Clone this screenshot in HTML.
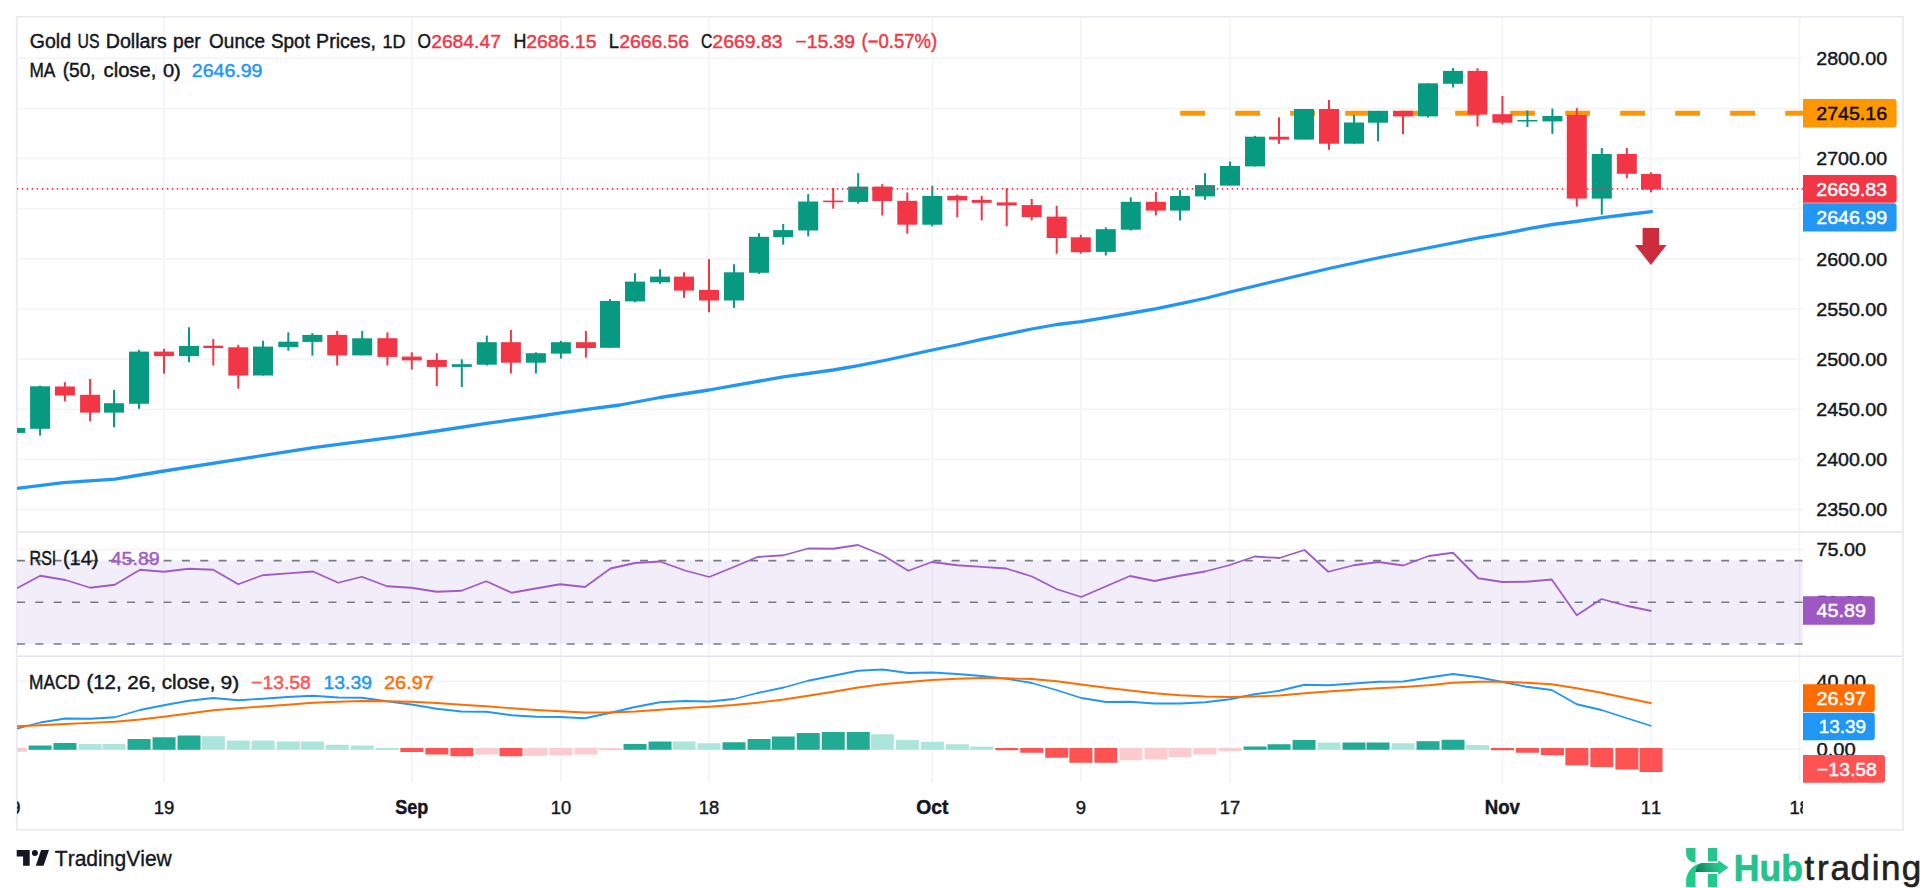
<!DOCTYPE html>
<html><head><meta charset="utf-8"><title>Gold chart</title><style>html,body{margin:0;padding:0;background:#fff}body{width:1920px;height:888px;overflow:hidden}</style></head><body>
<svg width="1920" height="888" viewBox="0 0 1920 888" font-family='"Liberation Sans", sans-serif' style="display:block;font-kerning:none">
<rect width="1920" height="888" fill="#fff"/>
<defs><clipPath id="plot"><rect x="17" y="17" width="1786" height="766"/></clipPath><clipPath id="taxis"><rect x="17" y="783" width="1786" height="46"/></clipPath></defs>
<g stroke="#F2F3F5" stroke-width="1.5">
<line x1="17" x2="1803" y1="58.30" y2="58.30"/>
<line x1="17" x2="1803" y1="108.44" y2="108.44"/>
<line x1="17" x2="1803" y1="158.57" y2="158.57"/>
<line x1="17" x2="1803" y1="208.70" y2="208.70"/>
<line x1="17" x2="1803" y1="258.84" y2="258.84"/>
<line x1="17" x2="1803" y1="308.97" y2="308.97"/>
<line x1="17" x2="1803" y1="359.11" y2="359.11"/>
<line x1="17" x2="1803" y1="409.25" y2="409.25"/>
<line x1="17" x2="1803" y1="459.38" y2="459.38"/>
<line x1="17" x2="1803" y1="509.51" y2="509.51"/>
<line x1="17" x2="1803" y1="549.5" y2="549.5"/>
<line x1="17" x2="1803" y1="681.25" y2="681.25"/>
<line x1="17" x2="1803" y1="749.25" y2="749.25"/>
<line x1="164.00" x2="164.00" y1="17" y2="782.5"/>
<line x1="411.80" x2="411.80" y1="17" y2="782.5"/>
<line x1="560.90" x2="560.90" y1="17" y2="782.5"/>
<line x1="709.00" x2="709.00" y1="17" y2="782.5"/>
<line x1="932.30" x2="932.30" y1="17" y2="782.5"/>
<line x1="1080.80" x2="1080.80" y1="17" y2="782.5"/>
<line x1="1230.00" x2="1230.00" y1="17" y2="782.5"/>
<line x1="1502.40" x2="1502.40" y1="17" y2="782.5"/>
<line x1="1651.00" x2="1651.00" y1="17" y2="782.5"/>
<line x1="1799.61" x2="1799.61" y1="17" y2="782.5"/>
</g>
<rect x="17" y="560.5" width="1786" height="83.5" fill="#F1EDF9"/>
<g stroke="#E6E3EF" stroke-width="1.5">
<line x1="164.00" x2="164.00" y1="560.5" y2="644"/>
<line x1="411.80" x2="411.80" y1="560.5" y2="644"/>
<line x1="560.90" x2="560.90" y1="560.5" y2="644"/>
<line x1="709.00" x2="709.00" y1="560.5" y2="644"/>
<line x1="932.30" x2="932.30" y1="560.5" y2="644"/>
<line x1="1080.80" x2="1080.80" y1="560.5" y2="644"/>
<line x1="1230.00" x2="1230.00" y1="560.5" y2="644"/>
<line x1="1502.40" x2="1502.40" y1="560.5" y2="644"/>
<line x1="1651.00" x2="1651.00" y1="560.5" y2="644"/>
<line x1="1799.61" x2="1799.61" y1="560.5" y2="644"/>
</g>
<g stroke="#E0E3EB" stroke-width="1.5" fill="none">
<line x1="17" x2="1903" y1="532" y2="532"/>
<line x1="17" x2="1903" y1="656.25" y2="656.25"/>
<rect x="16.8" y="16.8" width="1886.35" height="812.95" stroke="#E9EBF1" stroke-width="1.8"/>
</g>
<g clip-path="url(#plot)">
<line x1="1180.2" x2="1803" y1="113.3" y2="113.3" stroke="#FF9800" stroke-width="5" stroke-dasharray="24.8 30.2"/>
<rect x="14.30" y="427.90" width="2" height="5.00" fill="#089981"/>
<rect x="5.30" y="427.90" width="20" height="5.00" fill="#089981"/>
<rect x="39.10" y="385.60" width="2" height="50.00" fill="#089981"/>
<rect x="30.10" y="386.30" width="20" height="42.50" fill="#089981"/>
<rect x="63.90" y="382.20" width="2" height="19.20" fill="#F23645"/>
<rect x="54.90" y="386.50" width="20" height="9.00" fill="#F23645"/>
<rect x="89.10" y="379.00" width="2" height="42.40" fill="#F23645"/>
<rect x="80.10" y="394.80" width="20" height="17.80" fill="#F23645"/>
<rect x="113.00" y="389.90" width="2" height="37.40" fill="#089981"/>
<rect x="104.00" y="403.20" width="20" height="9.40" fill="#089981"/>
<rect x="138.00" y="349.80" width="2" height="59.00" fill="#089981"/>
<rect x="129.00" y="351.60" width="20" height="52.20" fill="#089981"/>
<rect x="163.00" y="348.90" width="2" height="24.70" fill="#F23645"/>
<rect x="154.00" y="351.60" width="20" height="4.50" fill="#F23645"/>
<rect x="188.00" y="327.30" width="2" height="34.90" fill="#089981"/>
<rect x="179.00" y="345.90" width="20" height="10.20" fill="#089981"/>
<rect x="212.30" y="339.00" width="2" height="26.50" fill="#F23645"/>
<rect x="203.30" y="345.70" width="20" height="2.30" fill="#F23645"/>
<rect x="237.30" y="344.80" width="2" height="43.90" fill="#F23645"/>
<rect x="228.30" y="347.30" width="20" height="28.20" fill="#F23645"/>
<rect x="262.00" y="340.80" width="2" height="34.70" fill="#089981"/>
<rect x="253.00" y="346.60" width="20" height="28.90" fill="#089981"/>
<rect x="287.30" y="332.40" width="2" height="18.30" fill="#089981"/>
<rect x="278.30" y="341.70" width="20" height="5.40" fill="#089981"/>
<rect x="311.40" y="333.10" width="2" height="22.50" fill="#089981"/>
<rect x="302.40" y="334.90" width="20" height="7.00" fill="#089981"/>
<rect x="336.20" y="330.90" width="2" height="34.60" fill="#F23645"/>
<rect x="327.20" y="334.90" width="20" height="20.50" fill="#F23645"/>
<rect x="361.20" y="330.90" width="2" height="24.50" fill="#089981"/>
<rect x="352.20" y="338.30" width="20" height="17.10" fill="#089981"/>
<rect x="386.40" y="332.40" width="2" height="33.10" fill="#F23645"/>
<rect x="377.40" y="338.20" width="20" height="18.70" fill="#F23645"/>
<rect x="410.80" y="352.30" width="2" height="17.30" fill="#F23645"/>
<rect x="401.80" y="356.60" width="20" height="3.80" fill="#F23645"/>
<rect x="435.80" y="353.20" width="2" height="32.90" fill="#F23645"/>
<rect x="426.80" y="360.00" width="20" height="6.90" fill="#F23645"/>
<rect x="460.80" y="359.30" width="2" height="27.70" fill="#089981"/>
<rect x="451.80" y="364.20" width="20" height="2.70" fill="#089981"/>
<rect x="485.80" y="335.60" width="2" height="30.00" fill="#089981"/>
<rect x="476.80" y="342.20" width="20" height="22.50" fill="#089981"/>
<rect x="509.90" y="330.00" width="2" height="43.50" fill="#F23645"/>
<rect x="500.90" y="342.20" width="20" height="20.50" fill="#F23645"/>
<rect x="534.90" y="352.30" width="2" height="21.20" fill="#089981"/>
<rect x="525.90" y="353.20" width="20" height="9.50" fill="#089981"/>
<rect x="559.90" y="340.80" width="2" height="17.80" fill="#089981"/>
<rect x="550.90" y="342.20" width="20" height="11.40" fill="#089981"/>
<rect x="584.90" y="330.90" width="2" height="26.80" fill="#F23645"/>
<rect x="575.90" y="342.20" width="20" height="5.80" fill="#F23645"/>
<rect x="609.00" y="299.10" width="2" height="48.70" fill="#089981"/>
<rect x="600.00" y="300.90" width="20" height="46.90" fill="#089981"/>
<rect x="634.00" y="273.20" width="2" height="29.10" fill="#089981"/>
<rect x="625.00" y="281.60" width="20" height="19.80" fill="#089981"/>
<rect x="659.00" y="269.20" width="2" height="14.60" fill="#089981"/>
<rect x="650.00" y="276.60" width="20" height="5.70" fill="#089981"/>
<rect x="683.00" y="272.30" width="2" height="25.50" fill="#F23645"/>
<rect x="674.00" y="276.60" width="20" height="14.00" fill="#F23645"/>
<rect x="708.00" y="259.10" width="2" height="53.10" fill="#F23645"/>
<rect x="699.00" y="289.90" width="20" height="10.60" fill="#F23645"/>
<rect x="733.00" y="264.20" width="2" height="43.70" fill="#089981"/>
<rect x="724.00" y="272.30" width="20" height="28.20" fill="#089981"/>
<rect x="758.00" y="233.20" width="2" height="40.60" fill="#089981"/>
<rect x="749.00" y="236.80" width="20" height="36.00" fill="#089981"/>
<rect x="782.20" y="224.00" width="2" height="20.70" fill="#089981"/>
<rect x="773.20" y="230.10" width="20" height="7.00" fill="#089981"/>
<rect x="807.20" y="194.10" width="2" height="42.30" fill="#089981"/>
<rect x="798.20" y="201.50" width="20" height="29.00" fill="#089981"/>
<rect x="832.20" y="188.00" width="2" height="20.70" fill="#F23645"/>
<rect x="823.20" y="200.60" width="20" height="1.60" fill="#F23645"/>
<rect x="857.20" y="173.10" width="2" height="30.60" fill="#089981"/>
<rect x="848.20" y="186.60" width="20" height="15.30" fill="#089981"/>
<rect x="881.30" y="184.10" width="2" height="31.40" fill="#F23645"/>
<rect x="872.30" y="186.60" width="20" height="14.40" fill="#F23645"/>
<rect x="906.30" y="192.50" width="2" height="41.20" fill="#F23645"/>
<rect x="897.30" y="200.80" width="20" height="23.90" fill="#F23645"/>
<rect x="931.30" y="185.70" width="2" height="40.80" fill="#089981"/>
<rect x="922.30" y="195.90" width="20" height="28.80" fill="#089981"/>
<rect x="956.30" y="194.70" width="2" height="22.60" fill="#F23645"/>
<rect x="947.30" y="195.90" width="20" height="4.50" fill="#F23645"/>
<rect x="980.70" y="195.90" width="2" height="24.50" fill="#F23645"/>
<rect x="971.70" y="199.90" width="20" height="2.90" fill="#F23645"/>
<rect x="1005.70" y="188.20" width="2" height="38.10" fill="#F23645"/>
<rect x="996.70" y="202.40" width="20" height="3.10" fill="#F23645"/>
<rect x="1030.70" y="199.00" width="2" height="21.40" fill="#F23645"/>
<rect x="1021.70" y="205.10" width="20" height="11.90" fill="#F23645"/>
<rect x="1055.70" y="205.80" width="2" height="47.90" fill="#F23645"/>
<rect x="1046.70" y="216.60" width="20" height="21.40" fill="#F23645"/>
<rect x="1079.80" y="234.80" width="2" height="18.90" fill="#F23645"/>
<rect x="1070.80" y="237.30" width="20" height="14.90" fill="#F23645"/>
<rect x="1104.80" y="227.40" width="2" height="28.10" fill="#089981"/>
<rect x="1095.80" y="229.20" width="20" height="22.70" fill="#089981"/>
<rect x="1129.80" y="197.40" width="2" height="33.20" fill="#089981"/>
<rect x="1120.80" y="201.80" width="20" height="27.90" fill="#089981"/>
<rect x="1154.90" y="191.90" width="2" height="23.60" fill="#F23645"/>
<rect x="1145.90" y="201.80" width="20" height="8.80" fill="#F23645"/>
<rect x="1179.00" y="190.10" width="2" height="30.40" fill="#089981"/>
<rect x="1170.00" y="196.00" width="20" height="14.60" fill="#089981"/>
<rect x="1204.00" y="173.20" width="2" height="26.60" fill="#089981"/>
<rect x="1195.00" y="185.10" width="20" height="11.30" fill="#089981"/>
<rect x="1229.00" y="161.50" width="2" height="24.10" fill="#089981"/>
<rect x="1220.00" y="166.00" width="20" height="19.60" fill="#089981"/>
<rect x="1254.00" y="135.80" width="2" height="30.60" fill="#089981"/>
<rect x="1245.00" y="136.70" width="20" height="29.70" fill="#089981"/>
<rect x="1278.00" y="117.30" width="2" height="26.60" fill="#F23645"/>
<rect x="1269.00" y="136.70" width="20" height="2.90" fill="#F23645"/>
<rect x="1303.00" y="109.00" width="2" height="30.60" fill="#089981"/>
<rect x="1294.00" y="109.00" width="20" height="30.60" fill="#089981"/>
<rect x="1328.00" y="100.00" width="2" height="49.80" fill="#F23645"/>
<rect x="1319.00" y="109.00" width="20" height="34.70" fill="#F23645"/>
<rect x="1353.00" y="115.10" width="2" height="28.60" fill="#089981"/>
<rect x="1344.00" y="122.50" width="20" height="21.20" fill="#089981"/>
<rect x="1377.00" y="110.80" width="2" height="30.60" fill="#089981"/>
<rect x="1368.00" y="110.80" width="20" height="11.90" fill="#089981"/>
<rect x="1402.00" y="110.80" width="2" height="23.20" fill="#F23645"/>
<rect x="1393.00" y="110.80" width="20" height="5.60" fill="#F23645"/>
<rect x="1427.00" y="83.30" width="2" height="34.30" fill="#089981"/>
<rect x="1418.00" y="83.30" width="20" height="33.10" fill="#089981"/>
<rect x="1452.00" y="68.20" width="2" height="19.20" fill="#089981"/>
<rect x="1443.00" y="70.90" width="20" height="12.90" fill="#089981"/>
<rect x="1476.50" y="68.20" width="2" height="58.20" fill="#F23645"/>
<rect x="1467.50" y="70.90" width="20" height="43.70" fill="#F23645"/>
<rect x="1501.40" y="96.00" width="2" height="28.30" fill="#F23645"/>
<rect x="1492.40" y="114.20" width="20" height="8.50" fill="#F23645"/>
<rect x="1526.40" y="110.40" width="2" height="16.60" fill="#089981"/>
<rect x="1517.40" y="120.00" width="20" height="1.50" fill="#089981"/>
<rect x="1551.40" y="108.60" width="2" height="25.20" fill="#089981"/>
<rect x="1542.40" y="116.00" width="20" height="5.40" fill="#089981"/>
<rect x="1575.80" y="108.10" width="2" height="98.40" fill="#F23645"/>
<rect x="1566.80" y="114.90" width="20" height="83.70" fill="#F23645"/>
<rect x="1600.80" y="148.00" width="2" height="66.60" fill="#089981"/>
<rect x="1591.80" y="154.00" width="20" height="44.60" fill="#089981"/>
<rect x="1625.85" y="148.00" width="2" height="30.10" fill="#F23645"/>
<rect x="1616.85" y="154.00" width="20" height="19.80" fill="#F23645"/>
<rect x="1650.00" y="172.30" width="2" height="20.00" fill="#F23645"/>
<rect x="1641.00" y="174.00" width="20" height="15.60" fill="#F23645"/>
<polyline points="17.00,488.30 63.30,482.70 115.00,479.20 140.00,475.00 164.00,471.00 238.30,459.30 313.30,447.70 400.00,436.30 436.70,431.00 486.70,423.30 536.70,416.50 561.00,412.80 586.70,409.30 620.00,405.00 660.00,397.50 709.00,390.00 735.00,385.40 783.30,376.80 833.30,370.00 858.30,365.70 886.70,360.00 932.30,350.00 956.70,345.00 981.70,339.40 1031.70,329.00 1056.70,324.50 1081.00,321.60 1106.70,317.30 1131.70,313.00 1156.70,308.70 1181.70,303.30 1206.70,298.00 1230.00,292.00 1280.00,280.00 1330.00,268.25 1380.00,257.50 1430.00,247.50 1480.00,237.70 1502.50,233.90 1527.50,228.90 1552.50,224.50 1577.50,221.25 1602.50,217.60 1627.50,214.50 1651.50,211.70" fill="none" stroke="#2196F3" stroke-width="3.3" stroke-linejoin="round" stroke-linecap="round"/>
<line x1="16.75" x2="1803" y1="188.9" y2="188.9" stroke="#F23645" stroke-width="1.8" stroke-dasharray="1.5 3.5"/>
<path d="M1642.6 228H1659.1V244.9H1666.6L1650.9 265L1635 244.9H1642.6Z" fill="#CB2D3C"/>
<g stroke="#787B86" stroke-width="1.6" stroke-dasharray="8 10.325">
<line x1="17" x2="1803" y1="560.6" y2="560.6"/>
<line x1="17" x2="1803" y1="602.2" y2="602.2"/>
<line x1="17" x2="1803" y1="644" y2="644"/>
</g>
<polyline points="17.00,588.25 40.25,575.75 65.50,580.00 90.25,587.75 114.75,584.75 140.00,569.75 163.75,571.75 188.75,568.75 213.25,569.75 238.25,584.25 262.50,575.25 287.80,573.40 313.00,571.50 338.25,582.75 361.75,576.75 387.00,586.25 411.25,587.75 436.75,591.75 461.50,590.75 486.25,581.25 511.75,592.75 535.50,588.50 560.00,584.25 585.00,587.00 610.50,568.50 635.00,563.00 660.00,561.50 685.00,570.50 709.25,577.00 733.70,567.00 757.50,557.00 783.75,555.25 808.00,548.50 833.25,548.75 858.00,545.00 882.50,555.00 908.25,570.75 932.00,562.00 957.00,565.25 981.70,566.90 1006.25,568.50 1032.00,576.50 1057.00,589.25 1081.25,597.00 1105.50,586.50 1130.00,576.00 1154.50,581.00 1180.00,575.75 1205.00,571.50 1230.00,565.00 1254.50,556.50 1279.50,558.00 1304.50,550.00 1328.25,571.75 1353.75,565.25 1378.25,562.00 1403.25,565.50 1428.75,556.00 1453.00,552.75 1478.25,578.25 1502.50,582.00 1526.25,581.75 1551.75,579.50 1576.75,615.25 1601.50,599.00 1626.25,605.75 1651.50,611.00" fill="none" stroke="#A25ACB" stroke-width="1.8" stroke-linejoin="round"/>
<rect x="3.85" y="748.00" width="23" height="3.75" fill="#FCCBCD"/>
<rect x="28.65" y="745.50" width="23" height="4.30" fill="#22AB94"/>
<rect x="53.45" y="743.00" width="23" height="6.80" fill="#22AB94"/>
<rect x="78.65" y="744.00" width="23" height="5.80" fill="#ACE5DC"/>
<rect x="102.55" y="744.00" width="23" height="5.80" fill="#ACE5DC"/>
<rect x="127.55" y="739.00" width="23" height="10.80" fill="#22AB94"/>
<rect x="152.55" y="737.25" width="23" height="12.55" fill="#22AB94"/>
<rect x="177.55" y="735.50" width="23" height="14.30" fill="#22AB94"/>
<rect x="201.85" y="736.25" width="23" height="13.55" fill="#ACE5DC"/>
<rect x="226.85" y="740.50" width="23" height="9.30" fill="#ACE5DC"/>
<rect x="251.55" y="740.50" width="23" height="9.30" fill="#ACE5DC"/>
<rect x="276.85" y="741.50" width="23" height="8.30" fill="#ACE5DC"/>
<rect x="300.95" y="741.50" width="23" height="8.30" fill="#ACE5DC"/>
<rect x="325.75" y="744.75" width="23" height="5.05" fill="#ACE5DC"/>
<rect x="350.75" y="745.50" width="23" height="4.30" fill="#ACE5DC"/>
<rect x="375.95" y="748.00" width="23" height="1.80" fill="#ACE5DC"/>
<rect x="400.35" y="748.00" width="23" height="4.00" fill="#FF5252"/>
<rect x="425.35" y="748.00" width="23" height="6.50" fill="#FF5252"/>
<rect x="450.35" y="748.00" width="23" height="8.25" fill="#FF5252"/>
<rect x="475.35" y="748.00" width="23" height="6.50" fill="#FCCBCD"/>
<rect x="499.45" y="748.00" width="23" height="8.25" fill="#FF5252"/>
<rect x="524.45" y="748.00" width="23" height="7.75" fill="#FCCBCD"/>
<rect x="549.45" y="748.00" width="23" height="7.25" fill="#FCCBCD"/>
<rect x="574.45" y="748.00" width="23" height="6.50" fill="#FCCBCD"/>
<rect x="598.55" y="748.00" width="23" height="2.20" fill="#FCCBCD"/>
<rect x="623.55" y="744.00" width="23" height="5.80" fill="#22AB94"/>
<rect x="648.55" y="741.50" width="23" height="8.30" fill="#22AB94"/>
<rect x="672.55" y="741.50" width="23" height="8.30" fill="#ACE5DC"/>
<rect x="697.55" y="743.25" width="23" height="6.55" fill="#ACE5DC"/>
<rect x="722.55" y="742.25" width="23" height="7.55" fill="#22AB94"/>
<rect x="747.55" y="739.00" width="23" height="10.80" fill="#22AB94"/>
<rect x="771.75" y="736.50" width="23" height="13.30" fill="#22AB94"/>
<rect x="796.75" y="733.00" width="23" height="16.80" fill="#22AB94"/>
<rect x="821.75" y="732.00" width="23" height="17.80" fill="#22AB94"/>
<rect x="846.75" y="732.00" width="23" height="17.80" fill="#22AB94"/>
<rect x="870.85" y="734.25" width="23" height="15.55" fill="#ACE5DC"/>
<rect x="895.85" y="740.00" width="23" height="9.80" fill="#ACE5DC"/>
<rect x="920.85" y="741.75" width="23" height="8.05" fill="#ACE5DC"/>
<rect x="945.85" y="744.25" width="23" height="5.55" fill="#ACE5DC"/>
<rect x="970.25" y="746.50" width="23" height="3.30" fill="#ACE5DC"/>
<rect x="995.25" y="748.00" width="23" height="2.20" fill="#FF5252"/>
<rect x="1020.25" y="748.00" width="23" height="4.75" fill="#FF5252"/>
<rect x="1045.25" y="748.00" width="23" height="9.75" fill="#FF5252"/>
<rect x="1069.35" y="748.00" width="23" height="14.75" fill="#FF5252"/>
<rect x="1094.35" y="748.00" width="23" height="14.75" fill="#FF5252"/>
<rect x="1119.35" y="748.00" width="23" height="12.25" fill="#FCCBCD"/>
<rect x="1144.45" y="748.00" width="23" height="11.50" fill="#FCCBCD"/>
<rect x="1168.55" y="748.00" width="23" height="9.00" fill="#FCCBCD"/>
<rect x="1193.55" y="748.00" width="23" height="6.50" fill="#FCCBCD"/>
<rect x="1218.55" y="748.00" width="23" height="3.00" fill="#FCCBCD"/>
<rect x="1243.55" y="746.50" width="23" height="3.30" fill="#22AB94"/>
<rect x="1267.55" y="744.25" width="23" height="5.55" fill="#22AB94"/>
<rect x="1292.55" y="740.00" width="23" height="9.80" fill="#22AB94"/>
<rect x="1317.55" y="742.50" width="23" height="7.30" fill="#ACE5DC"/>
<rect x="1342.55" y="742.50" width="23" height="7.30" fill="#22AB94"/>
<rect x="1366.55" y="742.50" width="23" height="7.30" fill="#22AB94"/>
<rect x="1391.55" y="743.25" width="23" height="6.55" fill="#ACE5DC"/>
<rect x="1416.55" y="741.20" width="23" height="8.60" fill="#22AB94"/>
<rect x="1441.55" y="739.75" width="23" height="10.05" fill="#22AB94"/>
<rect x="1466.05" y="745.00" width="23" height="4.80" fill="#ACE5DC"/>
<rect x="1490.95" y="748.00" width="23" height="2.20" fill="#FF5252"/>
<rect x="1515.95" y="748.00" width="23" height="4.75" fill="#FF5252"/>
<rect x="1540.95" y="748.00" width="23" height="7.25" fill="#FF5252"/>
<rect x="1565.35" y="748.00" width="23" height="17.25" fill="#FF5252"/>
<rect x="1590.35" y="748.00" width="23" height="19.00" fill="#FF5252"/>
<rect x="1615.40" y="748.00" width="23" height="21.50" fill="#FF5252"/>
<rect x="1639.55" y="748.00" width="23" height="24.00" fill="#FF5252"/>
<polyline points="17.00,728.75 40.25,722.50 65.50,718.50 90.25,718.75 114.75,717.25 140.00,710.00 163.75,705.25 188.75,700.75 213.25,698.00 238.25,700.25 262.50,698.75 287.50,697.00 313.00,695.75 338.25,697.50 361.75,697.75 387.00,701.25 411.25,704.50 436.75,708.75 461.50,711.50 486.25,711.75 511.75,715.25 536.25,716.75 560.00,717.00 585.00,718.25 610.50,712.75 635.00,707.00 660.00,702.25 685.00,701.00 709.25,701.50 733.75,699.00 757.50,693.00 783.75,687.50 808.00,680.75 833.25,675.75 858.00,670.75 882.50,669.50 908.25,673.00 932.00,672.50 957.00,674.00 982.00,676.00 1006.25,678.75 1032.00,683.00 1057.00,690.25 1081.25,698.00 1106.25,702.00 1130.00,701.75 1154.50,703.50 1180.00,703.50 1205.00,702.25 1230.00,699.25 1254.50,694.25 1279.50,690.75 1304.50,684.75 1328.25,685.25 1353.75,683.50 1378.25,681.75 1403.25,681.50 1428.75,677.50 1453.00,674.00 1478.25,677.25 1502.50,682.00 1526.25,686.75 1551.75,690.00 1576.75,704.25 1601.50,710.00 1626.25,718.00 1651.50,726.00" fill="none" stroke="#2196F3" stroke-width="1.8" stroke-linejoin="round"/>
<polyline points="17.00,726.25 40.25,725.25 65.50,724.00 90.25,722.90 114.75,721.75 140.00,719.50 163.75,716.75 188.75,713.50 213.25,710.25 238.25,708.25 262.50,706.50 287.50,704.75 313.00,702.75 338.25,701.75 361.75,701.00 387.00,701.25 411.25,701.75 436.75,703.00 461.50,704.75 486.25,706.25 511.75,708.25 536.25,710.00 560.00,711.25 585.00,712.50 610.50,712.50 635.00,711.50 660.00,709.75 685.00,708.00 709.25,706.75 733.75,705.00 757.50,702.75 783.75,699.50 808.00,695.75 833.25,691.75 858.00,687.50 882.50,684.25 908.25,682.00 932.00,680.00 957.00,678.75 982.00,678.00 1006.25,678.25 1032.00,679.00 1057.00,681.25 1081.25,684.50 1106.25,687.75 1130.00,690.50 1154.50,693.25 1180.00,695.25 1205.00,696.50 1230.00,697.00 1254.50,696.50 1279.50,695.50 1304.50,693.25 1328.25,691.50 1353.75,689.75 1378.25,688.25 1403.25,687.00 1428.75,685.25 1453.00,682.75 1478.25,681.75 1502.50,681.75 1526.25,682.75 1551.75,684.25 1576.75,688.25 1601.50,692.75 1626.25,698.00 1651.50,703.25" fill="none" stroke="#FF6D00" stroke-width="1.8" stroke-linejoin="round"/>
</g>
<text x="29.84" y="48.4" fill="#131722" font-size="19.6" textLength="41.19" lengthAdjust="spacingAndGlyphs" stroke="#131722" stroke-width="0.45">Gold</text>
<text x="77.5" y="48.4" fill="#131722" font-size="19.6" textLength="22.0" lengthAdjust="spacingAndGlyphs" stroke="#131722" stroke-width="0.45">US</text>
<text x="105.72" y="48.4" fill="#131722" font-size="19.6" textLength="61.02" lengthAdjust="spacingAndGlyphs" stroke="#131722" stroke-width="0.45">Dollars</text>
<text x="172.99" y="48.4" fill="#131722" font-size="19.6" textLength="27.7" lengthAdjust="spacingAndGlyphs" stroke="#131722" stroke-width="0.45">per</text>
<text x="209.08" y="48.4" fill="#131722" font-size="19.6" textLength="55.94" lengthAdjust="spacingAndGlyphs" stroke="#131722" stroke-width="0.45">Ounce</text>
<text x="270.97" y="48.4" fill="#131722" font-size="19.6" textLength="38.95" lengthAdjust="spacingAndGlyphs" stroke="#131722" stroke-width="0.45">Spot</text>
<text x="316.12" y="48.4" fill="#131722" font-size="19.6" textLength="59.81" lengthAdjust="spacingAndGlyphs" stroke="#131722" stroke-width="0.45">Prices,</text>
<text x="382.6" y="48.4" fill="#131722" font-size="19" textLength="23.03" lengthAdjust="spacingAndGlyphs" stroke="#131722" stroke-width="0.45">1D</text>
<text x="417.5" y="48.4" fill="#131722" font-size="19.6" textLength="13.5" lengthAdjust="spacingAndGlyphs" stroke="#131722" stroke-width="0.45">O</text>
<text x="513.51" y="48.4" fill="#131722" font-size="19.6" textLength="12.93" lengthAdjust="spacingAndGlyphs" stroke="#131722" stroke-width="0.45">H</text>
<text x="608.63" y="48.4" fill="#131722" font-size="19.6" textLength="10.15" lengthAdjust="spacingAndGlyphs" stroke="#131722" stroke-width="0.45">L</text>
<text x="700.93" y="48.4" fill="#131722" font-size="19.6" textLength="11.35" lengthAdjust="spacingAndGlyphs" stroke="#131722" stroke-width="0.45">C</text>
<text x="431.15" y="48.4" fill="#F23645" font-size="19" textLength="69.79" lengthAdjust="spacingAndGlyphs" stroke="#F23645" stroke-width="0.45">2684.47</text>
<text x="526.15" y="48.4" fill="#F23645" font-size="19" textLength="70.35" lengthAdjust="spacingAndGlyphs" stroke="#F23645" stroke-width="0.45">2686.15</text>
<text x="619.25" y="48.4" fill="#F23645" font-size="19" textLength="69.87" lengthAdjust="spacingAndGlyphs" stroke="#F23645" stroke-width="0.45">2666.56</text>
<text x="712.35" y="48.4" fill="#F23645" font-size="19" textLength="70.18" lengthAdjust="spacingAndGlyphs" stroke="#F23645" stroke-width="0.45">2669.83</text>
<text x="795.52" y="48.4" fill="#F23645" font-size="19" textLength="59.57" lengthAdjust="spacingAndGlyphs" stroke="#F23645" stroke-width="0.45">−15.39</text>
<text x="861.58" y="48.4" fill="#F23645" font-size="19.6" textLength="75.59" lengthAdjust="spacingAndGlyphs" stroke="#F23645" stroke-width="0.45">(−0.57%)</text>
<text x="29.41" y="76.8" fill="#131722" font-size="19.6" textLength="25.9" lengthAdjust="spacingAndGlyphs" stroke="#131722" stroke-width="0.45">MA</text>
<text x="62.64" y="76.8" fill="#131722" font-size="19.6" textLength="33.06" lengthAdjust="spacingAndGlyphs" stroke="#131722" stroke-width="0.45">(50,</text>
<text x="103.57" y="76.8" fill="#131722" font-size="19.6" textLength="52.72" lengthAdjust="spacingAndGlyphs" stroke="#131722" stroke-width="0.45">close,</text>
<text x="162.94" y="76.8" fill="#131722" font-size="19" textLength="17.88" lengthAdjust="spacingAndGlyphs" stroke="#131722" stroke-width="0.45">0)</text>
<text x="191.84" y="76.8" fill="#2196F3" font-size="19" textLength="70.56" lengthAdjust="spacingAndGlyphs" stroke="#2196F3" stroke-width="0.45">2646.99</text>
<text x="29.61" y="565.3" fill="#131722" font-size="19.6" textLength="26.64" lengthAdjust="spacingAndGlyphs" stroke="#131722" stroke-width="0.45">RSI</text>
<text x="62.99" y="565.3" fill="#131722" font-size="19.6" textLength="35.42" lengthAdjust="spacingAndGlyphs" stroke="#131722" stroke-width="0.45">(14)</text>
<text x="110.67" y="565.3" fill="#A25ACB" font-size="19" textLength="49.13" lengthAdjust="spacingAndGlyphs" stroke="#A25ACB" stroke-width="0.45">45.89</text>
<text x="29.06" y="689.2" fill="#131722" font-size="19.6" textLength="50.95" lengthAdjust="spacingAndGlyphs" stroke="#131722" stroke-width="0.45">MACD</text>
<text x="86.46" y="689.2" fill="#131722" font-size="19.6" textLength="35.15" lengthAdjust="spacingAndGlyphs" stroke="#131722" stroke-width="0.45">(12,</text>
<text x="127.28" y="689.2" fill="#131722" font-size="19" textLength="28.75" lengthAdjust="spacingAndGlyphs" stroke="#131722" stroke-width="0.45">26,</text>
<text x="161.85" y="689.2" fill="#131722" font-size="19.6" textLength="53.51" lengthAdjust="spacingAndGlyphs" stroke="#131722" stroke-width="0.45">close,</text>
<text x="220.49" y="689.2" fill="#131722" font-size="19" textLength="18.69" lengthAdjust="spacingAndGlyphs" stroke="#131722" stroke-width="0.45">9)</text>
<text x="251.17" y="689.2" fill="#FF5252" font-size="19" textLength="59.69" lengthAdjust="spacingAndGlyphs" stroke="#FF5252" stroke-width="0.45">−13.58</text>
<text x="323.5" y="689.2" fill="#2196F3" font-size="19" textLength="48.44" lengthAdjust="spacingAndGlyphs" stroke="#2196F3" stroke-width="0.45">13.39</text>
<text x="383.97" y="689.2" fill="#FF6D00" font-size="19" textLength="49.91" lengthAdjust="spacingAndGlyphs" stroke="#FF6D00" stroke-width="0.45">26.97</text>
<text x="1816.24" y="65.2" fill="#131722" font-size="19" textLength="70.9" lengthAdjust="spacingAndGlyphs" stroke="#131722" stroke-width="0.45">2800.00</text>
<text x="1816.24" y="165.4" fill="#131722" font-size="19" textLength="70.9" lengthAdjust="spacingAndGlyphs" stroke="#131722" stroke-width="0.45">2700.00</text>
<text x="1816.24" y="265.7" fill="#131722" font-size="19" textLength="70.9" lengthAdjust="spacingAndGlyphs" stroke="#131722" stroke-width="0.45">2600.00</text>
<text x="1816.24" y="315.8" fill="#131722" font-size="19" textLength="70.9" lengthAdjust="spacingAndGlyphs" stroke="#131722" stroke-width="0.45">2550.00</text>
<text x="1816.24" y="366.0" fill="#131722" font-size="19" textLength="70.9" lengthAdjust="spacingAndGlyphs" stroke="#131722" stroke-width="0.45">2500.00</text>
<text x="1816.24" y="416.1" fill="#131722" font-size="19" textLength="70.9" lengthAdjust="spacingAndGlyphs" stroke="#131722" stroke-width="0.45">2450.00</text>
<text x="1816.24" y="466.2" fill="#131722" font-size="19" textLength="70.9" lengthAdjust="spacingAndGlyphs" stroke="#131722" stroke-width="0.45">2400.00</text>
<text x="1816.24" y="516.4" fill="#131722" font-size="19" textLength="70.9" lengthAdjust="spacingAndGlyphs" stroke="#131722" stroke-width="0.45">2350.00</text>
<text x="1816.57" y="556.4" fill="#131722" font-size="19" textLength="49.44" lengthAdjust="spacingAndGlyphs" stroke="#131722" stroke-width="0.45">75.00</text>
<text x="1816.57" y="609.0" fill="#131722" font-size="19" textLength="49.44" lengthAdjust="spacingAndGlyphs" stroke="#131722" stroke-width="0.45">50.00</text>
<text x="1816.57" y="688.1" fill="#131722" font-size="19" textLength="49.44" lengthAdjust="spacingAndGlyphs" stroke="#131722" stroke-width="0.45">40.00</text>
<text x="1816.44" y="756.1" fill="#131722" font-size="19" textLength="39.33" lengthAdjust="spacingAndGlyphs" stroke="#131722" stroke-width="0.45">0.00</text>
<path d="M1803 99.1H1893.6a3 3 0 0 1 3 3V124.4a3 3 0 0 1 -3 3H1803Z" fill="#FF9800"/>
<text x="1816.24" y="120.0" fill="#0c0c10" font-size="19" textLength="70.9" lengthAdjust="spacingAndGlyphs" stroke="#0c0c10" stroke-width="0.45">2745.16</text>
<path d="M1803 174.9H1893.6a3 3 0 0 1 3 3V199.7a3 3 0 0 1 -3 3H1803Z" fill="#F23645"/>
<text x="1816.24" y="195.6" fill="#fff" font-size="19" textLength="70.9" lengthAdjust="spacingAndGlyphs" stroke="#fff" stroke-width="0.45">2669.83</text>
<path d="M1803 203.2H1893.6a3 3 0 0 1 3 3V228.5a3 3 0 0 1 -3 3H1803Z" fill="#2196F3"/>
<text x="1816.24" y="224.1" fill="#fff" font-size="19" textLength="70.9" lengthAdjust="spacingAndGlyphs" stroke="#fff" stroke-width="0.45">2646.99</text>
<path d="M1803 596.3H1871.8a3 3 0 0 1 3 3V621.8a3 3 0 0 1 -3 3H1803Z" fill="#9F57C3"/>
<text x="1816.57" y="617.3" fill="#fff" font-size="19" textLength="49.44" lengthAdjust="spacingAndGlyphs" stroke="#fff" stroke-width="0.45">45.89</text>
<path d="M1803 684.2H1871.8a3 3 0 0 1 3 3V709.1a3 3 0 0 1 -3 3H1803Z" fill="#FF6D00"/>
<text x="1816.57" y="704.9" fill="#fff" font-size="19" textLength="49.44" lengthAdjust="spacingAndGlyphs" stroke="#fff" stroke-width="0.45">26.97</text>
<path d="M1803 712.7H1871.8a3 3 0 0 1 3 3V737.3a3 3 0 0 1 -3 3H1803Z" fill="#2196F3"/>
<text x="1818.69" y="733.2" fill="#fff" font-size="19" textLength="47.28" lengthAdjust="spacingAndGlyphs" stroke="#fff" stroke-width="0.45">13.39</text>
<path d="M1803 754.9H1882a3 3 0 0 1 3 3V779.8a3 3 0 0 1 -3 3H1803Z" fill="#FF5252"/>
<text x="1817.07" y="775.6" fill="#fff" font-size="19" textLength="59.75" lengthAdjust="spacingAndGlyphs" stroke="#fff" stroke-width="0.45">−13.58</text>
<g clip-path="url(#taxis)">
<text x="15.3" y="813.7" fill="#131722" font-size="19" textLength="10.3" lengthAdjust="spacingAndGlyphs" text-anchor="middle" stroke="#131722" stroke-width="0.45">9</text>
<text x="164" y="813.7" fill="#131722" font-size="19" textLength="20.6" lengthAdjust="spacingAndGlyphs" text-anchor="middle" stroke="#131722" stroke-width="0.45">19</text>
<text x="411.8" y="813.7" fill="#131722" font-size="19.6" textLength="33" lengthAdjust="spacingAndGlyphs" font-weight="bold" text-anchor="middle" stroke="#131722" stroke-width="0.45">Sep</text>
<text x="560.9" y="813.7" fill="#131722" font-size="19" textLength="20.4" lengthAdjust="spacingAndGlyphs" text-anchor="middle" stroke="#131722" stroke-width="0.45">10</text>
<text x="709" y="813.7" fill="#131722" font-size="19" textLength="20.4" lengthAdjust="spacingAndGlyphs" text-anchor="middle" stroke="#131722" stroke-width="0.45">18</text>
<text x="932.3" y="813.7" fill="#131722" font-size="19.6" textLength="32.2" lengthAdjust="spacingAndGlyphs" font-weight="bold" text-anchor="middle" stroke="#131722" stroke-width="0.45">Oct</text>
<text x="1080.8" y="813.7" fill="#131722" font-size="19" textLength="10.3" lengthAdjust="spacingAndGlyphs" text-anchor="middle" stroke="#131722" stroke-width="0.45">9</text>
<text x="1230" y="813.7" fill="#131722" font-size="19" textLength="20.4" lengthAdjust="spacingAndGlyphs" text-anchor="middle" stroke="#131722" stroke-width="0.45">17</text>
<text x="1502.4" y="813.7" fill="#131722" font-size="19.6" textLength="35.2" lengthAdjust="spacingAndGlyphs" font-weight="bold" text-anchor="middle" stroke="#131722" stroke-width="0.45">Nov</text>
<text x="1651.0" y="813.7" fill="#131722" font-size="19" textLength="20.4" lengthAdjust="spacingAndGlyphs" text-anchor="middle" stroke="#131722" stroke-width="0.45">11</text>
<text x="1799.6" y="813.7" fill="#131722" font-size="19" textLength="20.4" lengthAdjust="spacingAndGlyphs" text-anchor="middle" stroke="#131722" stroke-width="0.45">18</text>
</g>
<g fill="#131722"><path d="M16.7 850.1H29.7V865.7H23.1V856.4H16.7Z"/><circle cx="34.9" cy="853.1" r="3"/><path d="M41.1 850.1H49L43.5 865.7H35.8Z"/></g>
<text x="54.8" y="866.0" fill="#131722" font-size="21.5" textLength="117" lengthAdjust="spacingAndGlyphs" stroke="#131722" stroke-width="0.35">TradingView</text>
<defs><linearGradient id="hg" gradientUnits="userSpaceOnUse" x1="1696" y1="872" x2="1716" y2="864"><stop offset="0" stop-color="#07784E"/><stop offset="0.55" stop-color="#1BA873"/><stop offset="1" stop-color="#27C28B"/></linearGradient><linearGradient id="hv" gradientUnits="userSpaceOnUse" x1="0" y1="848" x2="0" y2="887"><stop offset="0" stop-color="#2AC28C"/><stop offset="1" stop-color="#1DCD8A"/></linearGradient></defs>
<g fill="url(#hv)">
<path d="M1686.1 848H1695.5V862.8A9.4 9.4 0 0 1 1686.1 853.4Z"/>
<path d="M1707.9 848H1717.25V861.5H1707.9Z"/>
<path d="M1707.9 873.9H1717.25V887H1707.9Z"/>
<path d="M1686.1 887V881.2A18.3 18.3 0 0 1 1704.4 862.9H1718.3V860.2L1728.4 867.5L1718.3 874.9V872.1H1695.5V887Z"/>
</g>
<path d="M1695.5 872.1C1696 867.5 1698 864.3 1701.5 862.9H1718.3V872.1Z" fill="url(#hg)"/>
<text x="1733.87" y="880.7" fill="#26C28B" font-size="36.5" textLength="69.14" lengthAdjust="spacingAndGlyphs" font-weight="bold" stroke="#26C28B" stroke-width="0.7">Hub</text>
<text x="1804.47 1816.98 1830.41 1850.43 1871.71 1880.98 1901.63" y="880.3" fill="#222" font-size="35" stroke="#222" stroke-width="0.6">trading</text>
</svg>
</body></html>
